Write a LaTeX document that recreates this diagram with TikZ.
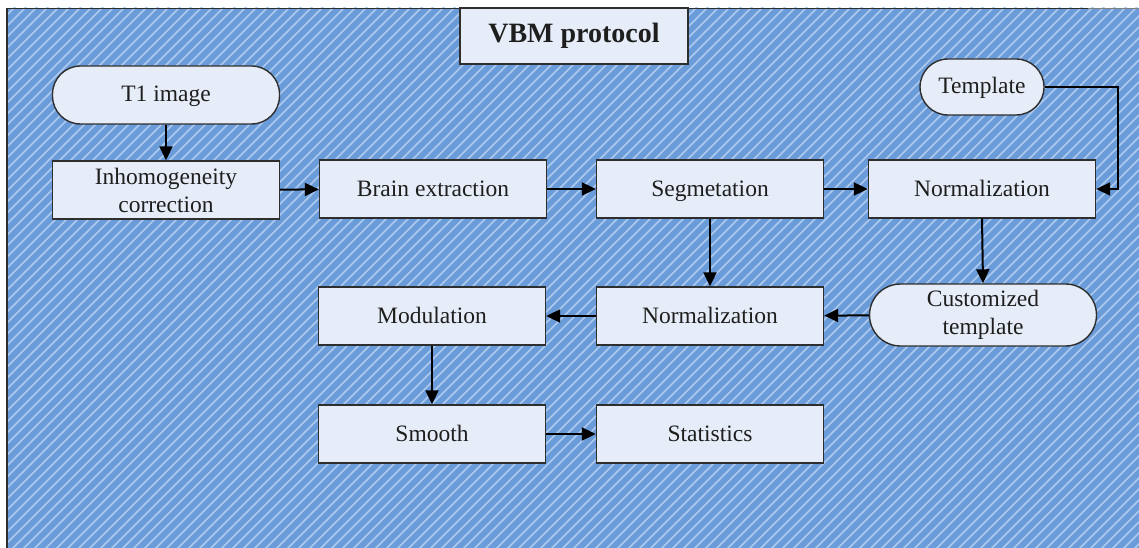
\documentclass[tikz,border=0pt]{standalone}
\usepackage{fontspec}
\setmainfont{Liberation Serif}
\usetikzlibrary{arrows.meta}
\definecolor{bgblue}{HTML}{6B9CDA}
\definecolor{hatchc}{HTML}{AECAEE}
\definecolor{boxfill}{HTML}{E7EDF8}
\definecolor{edgec}{HTML}{2E2E2E}
\definecolor{txtc}{HTML}{1E1E1E}
\tikzset{
  stepbox/.style={draw=edgec, line width=1.4pt, fill=boxfill, minimum width=227pt, minimum height=58pt,
    inner sep=0pt, align=center, text=txtc, font=\fontsize{23.5}{28}\selectfont},
  onel/.style={anchor=base, yshift=-7pt},
  pill/.style={stepbox, rounded corners=28pt},
  arr/.style={draw=black, line width=2pt, -{Triangle[length=14pt,width=13pt]}},
  hatch/.style={draw=hatchc, line width=1.7pt}
}
\begin{document}
\begin{tikzpicture}[x=1pt,y=-1pt]
\useasboundingbox (0,0) rectangle (1139,548);
\fill[white] (0,0) rectangle (1139,548);
\fill[bgblue] (7,8) rectangle (1139,548);
\begin{scope}
\clip (7,8) rectangle (1139,548);
\foreach \c in {0,11,...,1700} \draw[hatch] (\c,0) -- ++(-600,600);
\end{scope}
\draw[edgec, line width=1.6pt] (7,548) -- (7,8.5) -- (1088,8.5);
\draw[gray, line width=1.6pt] (1088,8.5) -- (1139,8.5);

\node[stepbox, text height=20pt, text depth=6pt, minimum width=228pt, minimum height=56pt, font=\fontsize{28}{30}\selectfont\bfseries] (title) at (574,36) {VBM protocol};

\node[pill, text height=20pt, text depth=6pt] (t1) at (166,95) {T1 image};
\node[stepbox] (inh) at (166,190) {Inhomogeneity\\correction};
\node[stepbox, text height=20pt, text depth=6pt] (brain) at (433,189) {Brain extraction};
\node[stepbox, text height=20pt, text depth=6pt] (seg) at (710,189) {Segmetation};
\node[stepbox, text height=20pt, text depth=6pt] (normA) at (982,189) {Normalization};
\node[pill, text height=20pt, text depth=6pt, minimum width=124pt, minimum height=56pt] (tmpl) at (982,87) {Template};
\node[pill, minimum height=62pt, rounded corners=31pt] (cust) at (983,315) {Customized\\template};
\node[stepbox, text height=20pt, text depth=6pt] (normB) at (710,316) {Normalization};
\node[stepbox, text height=20pt, text depth=6pt] (mod) at (432,316) {Modulation};
\node[stepbox, text height=20pt, text depth=6pt] (smooth) at (432,434) {Smooth};
\node[stepbox, text height=20pt, text depth=6pt] (stat) at (710,434) {Statistics};

\coordinate (tc) at (1118,189);

\draw[arr] (t1) -- (inh);
\draw[arr] (inh) -- (brain);
\draw[arr] (brain) -- (seg);
\draw[arr] (seg) -- (normA);
\draw[arr] (tmpl.east) -| (tc) -- (normA.east);
\draw[arr] (normA.south) -- (cust.north);
\draw[arr] (seg) -- (normB);
\draw[arr] (cust) -- (normB);
\draw[arr] (normB) -- (mod);
\draw[arr] (mod) -- (smooth);
\draw[arr] (smooth) -- (stat);
\end{tikzpicture}
\end{document}
